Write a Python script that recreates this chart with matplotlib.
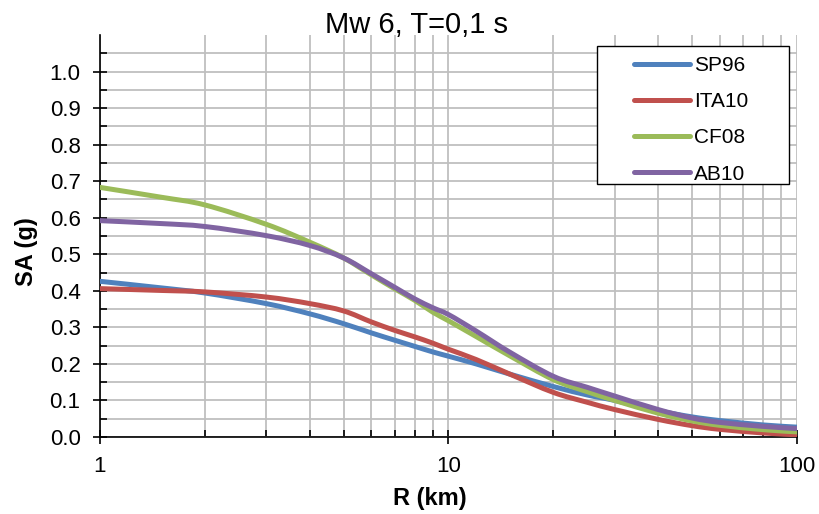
import numpy as np
import matplotlib
matplotlib.use("Agg")
import matplotlib.pyplot as plt
from matplotlib.path import Path
from matplotlib.patches import PathPatch, Rectangle
from matplotlib.lines import Line2D
from matplotlib.ticker import FixedLocator, NullFormatter, FormatStrFormatter

plt.rcParams['font.family'] = ['Liberation Sans', 'DejaVu Sans']

# Distance (km) and spectral acceleration (g) for each model
distance_km = [1, 1.5, 2, 3, 4, 5, 6, 7, 8, 9, 10, 12, 15, 20, 25, 30, 40, 50, 60, 80, 100]
sp96 = [0.426, 0.408, 0.394, 0.365, 0.337, 0.310, 0.285, 0.265, 0.248, 0.233, 0.221,
        0.200, 0.172, 0.138, 0.115, 0.100, 0.072, 0.055, 0.045, 0.033, 0.027]
ita10 = [0.406, 0.401, 0.397, 0.383, 0.365, 0.345, 0.315, 0.292, 0.274, 0.257, 0.240,
         0.212, 0.172, 0.122, 0.095, 0.075, 0.048, 0.031, 0.021, 0.011, 0.006]
cf08 = [0.683, 0.656, 0.635, 0.582, 0.533, 0.490, 0.444, 0.406, 0.374, 0.342, 0.318,
        0.275, 0.222, 0.157, 0.124, 0.100, 0.065, 0.044, 0.032, 0.020, 0.014]
ab10 = [0.592, 0.584, 0.576, 0.551, 0.524, 0.490, 0.447, 0.410, 0.378, 0.354, 0.335,
        0.290, 0.232, 0.166, 0.136, 0.112, 0.075, 0.052, 0.040, 0.029, 0.023]

series_names = ["SP96", "ITA10", "CF08", "AB10"]
series_values = [sp96, ita10, cf08, ab10]
series_colors = ["#4F81BD", "#C0504D", "#9BBB59", "#8064A2"]

y_major = [0.0, 0.1, 0.2, 0.3, 0.4, 0.5, 0.6, 0.7, 0.8, 0.9, 1.0]
y_minor = [0.05, 0.15, 0.25, 0.35, 0.45, 0.55, 0.65, 0.75, 0.85, 0.95, 1.05]
x_major = [1, 10, 100]
x_minor = [2, 3, 4, 5, 6, 7, 8, 9, 20, 30, 40, 50, 60, 70, 80, 90]


def smooth_path(x, y):
    """Cubic Bezier path through the points (smoothed line, built in log-x space)."""
    u = np.log10(np.asarray(x, float))
    v = np.asarray(y, float)
    n = len(u)
    verts = [(u[0], v[0])]
    codes = [Path.MOVETO]
    for i in range(n - 1):
        u0, v0 = (u[i - 1], v[i - 1]) if i > 0 else (u[i], v[i])
        u3, v3 = (u[i + 2], v[i + 2]) if i + 2 < n else (u[i + 1], v[i + 1])
        c1 = (u[i] + (u[i + 1] - u0) / 6.0, v[i] + (v[i + 1] - v0) / 6.0)
        c2 = (u[i + 1] - (u3 - u[i]) / 6.0, v[i + 1] - (v3 - v[i]) / 6.0)
        verts += [c1, c2, (u[i + 1], v[i + 1])]
        codes += [Path.CURVE4] * 3
    verts = [(10 ** a, b) for a, b in verts]
    return Path(verts, codes)


fig = plt.figure(figsize=(8.2, 5.14), dpi=100)
ax = fig.add_axes([100 / 820, 77 / 514, 697 / 820, 402 / 514])

ax.set_xscale('log')
ax.set_xlim(1, 100)
ax.set_ylim(0, 1.1)

handles = []
for name, vals, col in zip(series_names, series_values, series_colors):
    patch = PathPatch(smooth_path(distance_km, vals), facecolor='none', edgecolor=col,
                      lw=3.6, capstyle='round', joinstyle='round', zorder=3)
    ax.add_patch(patch)
    handles.append(Line2D([], [], color=col, lw=3.6, solid_capstyle='round', label=name))

ax.xaxis.set_major_locator(FixedLocator(x_major))
ax.xaxis.set_major_formatter(FormatStrFormatter('%g'))
ax.xaxis.set_minor_locator(FixedLocator(x_minor))
ax.xaxis.set_minor_formatter(NullFormatter())
ax.yaxis.set_major_locator(FixedLocator(y_major))
ax.yaxis.set_minor_locator(FixedLocator(y_minor))
ax.yaxis.set_major_formatter(FormatStrFormatter('%.1f'))

ax.grid(True, which='both', color='#BFBFBF', lw=1.3, zorder=0)
ax.set_axisbelow(True)

ax.tick_params(which='major', direction='inout', length=10, width=1.2, labelsize=16, color='black')
ax.tick_params(axis='y', which='major', pad=9)
ax.tick_params(axis='x', which='major', pad=9)
ax.tick_params(which='minor', direction='in', length=5, width=1.2, color='black')

for s in ('top', 'right'):
    ax.spines[s].set_visible(False)
for s in ('left', 'bottom'):
    ax.spines[s].set_linewidth(1.2)

fig.text(417 / 820, 1 - 33 / 514, "Mw 6, T=0,1 s", fontsize=21, ha='center', va='baseline')
fig.text(430 / 820, 1 - 505 / 514, "R (km)", fontsize=17, fontweight='bold', ha='center', va='baseline')
fig.text(27 / 820, 1 - 252 / 514, "SA (g)", fontsize=17, fontweight='bold', rotation=90,
         ha='center', va='center')

# Legend box
ax.add_patch(Rectangle((0.713, 0.629), 0.2755, 0.3436, transform=ax.transAxes,
                       facecolor='white', edgecolor='black', lw=1.0, zorder=4))
leg = ax.legend(handles=handles, loc='upper left', bbox_to_anchor=(0.766, 0.947),
                fontsize=15, frameon=False, handlelength=2.7, handletextpad=0.2,
                labelspacing=0.82, borderpad=0, borderaxespad=0)
leg.set_zorder(5)

fig.savefig("out.png", dpi=100)
